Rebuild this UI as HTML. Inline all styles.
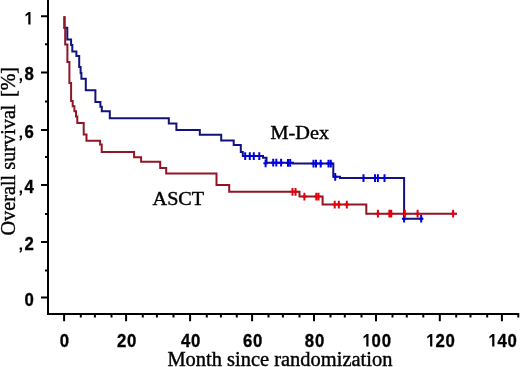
<!DOCTYPE html>
<html><head><meta charset="utf-8"><style>
html,body{margin:0;padding:0;background:#fff;}
body{width:520px;height:367px;overflow:hidden;}
svg{display:block;filter:blur(0.4px);}
.sans{font-family:"Liberation Sans",sans-serif;font-weight:bold;font-size:18.4px;fill:#000;stroke:#000;stroke-width:0.35px;}
.serif{font-family:"Liberation Serif",serif;font-size:20px;fill:#000;stroke:#000;stroke-width:0.4px;}
</style></head><body>
<svg width="520" height="367" viewBox="0 0 520 367">
<path d="M48 0V314.9 M47 313.9H519.3 M41 16.2H48 M41 72.5H48 M41 129.9H48 M41 185.1H48 M41 242.0H48 M41 297.4H48 M45 44.3H48 M45 101.6H48 M45 157.0H48 M45 214.0H48 M45 270.4H48 M64.1 313.9V321.2 M126.1 313.9V321.2 M190.1 313.9V321.2 M252.1 313.9V321.2 M314.0 313.9V321.2 M376.0 313.9V321.2 M439.8 313.9V321.2 M501.9 313.9V321.2 M80.8 313.9V317.5 M94.9 313.9V317.5 M111.5 313.9V317.5 M142.8 313.9V317.5 M156.9 313.9V317.5 M173.5 313.9V317.5 M206.8 313.9V317.5 M220.9 313.9V317.5 M236.8 313.9V317.5 M268.5 313.9V317.5 M282.9 313.9V317.5 M299.5 313.9V317.5 M330.5 313.9V317.5 M344.8 313.9V317.5 M361.5 313.9V317.5 M392.5 313.9V317.5 M406.8 313.9V317.5 M423.3 313.9V317.5 M456.2 313.9V317.5 M470.5 313.9V317.5 M487.2 313.9V317.5 M518.3 313.9V317.5 " fill="none" stroke="#000" stroke-width="2"/>
<path d="M64.5 16.3 L64.5 27.8 L67.3 27.8 L67.3 39.5 L71.1 39.5 L71.1 45.0 L72.3 45.0 L72.3 51.4 L76.4 51.4 L76.4 55.9 L79.2 55.9 L79.2 67.0 L80.6 67.0 L80.6 72.9 L81.4 72.9 L81.4 78.8 L85.8 78.8 L85.8 90.2 L95.4 90.2 L95.4 101.9 L100.4 101.9 L100.4 106.7 L101.8 106.7 L101.8 111.3 L109.8 111.3 L109.8 118.3 L168.8 118.3 L168.8 123.5 L176.4 123.5 L176.4 129.9 L199.8 129.9 L199.8 134.7 L221.2 134.7 L221.2 140.5 L233.7 140.5 L233.7 145.1 L240.8 145.1 L240.8 151.9 L242.8 151.9 L242.8 156.1 L263.0 156.1 L263.0 157.8 L266.5 157.8 L266.5 162.7 L293.0 162.7 L293.0 163.6 L333.3 163.6 L333.3 176.8 L340.0 176.8 L340.0 178.1 L404.1 178.1 L404.1 218.7 L423.0 218.7" fill="none" stroke="#12127e" stroke-width="2"/>
<path d="M245.2 152.2V160.0M243.0 156.1H247.4M249.8 152.2V160.0M247.6 156.1H252.0M253.8 152.2V160.0M251.6 156.1H256.0M259.3 152.2V160.0M257.1 156.1H261.5M265.6 159.4V167.2M263.4 163.3H267.8M273.2 158.8V166.6M271.0 162.7H275.4M276.3 158.8V166.6M274.1 162.7H278.5M281.1 158.8V166.6M278.9 162.7H283.3M288.0 159.0V166.8M285.8 162.9H290.2M290.2 159.0V166.8M288.0 162.9H292.4M313.5 159.7V167.5M311.3 163.6H315.7M316.0 159.7V167.5M313.8 163.6H318.2M320.7 159.7V167.5M318.5 163.6H322.9M328.5 159.7V167.5M326.3 163.6H330.7M330.8 159.7V167.5M328.6 163.6H333.0M335.2 172.9V180.7M333.0 176.8H337.4M363.5 174.2V182.0M361.3 178.1H365.7M375.0 174.2V182.0M372.8 178.1H377.2M377.9 174.2V182.0M375.7 178.1H380.1M384.5 174.2V182.0M382.3 178.1H386.7M404.1 214.8V222.6M401.9 218.7H406.3M421.2 214.8V222.6M419.0 218.7H423.4" fill="none" stroke="#0000e0" stroke-width="2"/>
<path d="M64.4 16.3 L64.4 28.0 L65.2 28.0 L65.2 44.4 L67.4 44.4 L67.4 62.0 L69.4 62.0 L69.4 83.0 L71.1 83.0 L71.1 101.0 L72.7 101.0 L72.7 106.3 L74.4 106.3 L74.4 111.2 L76.0 111.2 L76.0 116.6 L77.3 116.6 L77.3 123.0 L83.7 123.0 L83.7 134.6 L86.5 134.6 L86.5 140.7 L100.1 140.7 L100.1 144.4 L101.7 144.4 L101.7 152.1 L134.1 152.1 L134.1 157.2 L141.1 157.2 L141.1 161.8 L160.2 161.8 L160.2 168.1 L166.2 168.1 L166.2 173.5 L216.5 173.5 L216.5 184.9 L229.2 184.9 L229.2 191.8 L299.5 191.8 L299.5 196.6 L322.6 196.6 L322.6 204.6 L366.3 204.6 L366.3 213.7 L457.0 213.7" fill="none" stroke="#901626" stroke-width="2"/>
<path d="M292.5 187.9V195.7M290.3 191.8H294.7M295.5 187.9V195.7M293.3 191.8H297.7M304.4 192.7V200.5M302.2 196.6H306.6M316.3 192.7V200.5M314.1 196.6H318.5M318.5 192.7V200.5M316.3 196.6H320.7M334.7 200.7V208.5M332.5 204.6H336.9M338.8 200.7V208.5M336.6 204.6H341.0M346.8 200.7V208.5M344.6 204.6H349.0M377.9 209.8V217.6M375.7 213.7H380.1M389.4 209.8V217.6M387.2 213.7H391.6M391.2 209.8V217.6M389.0 213.7H393.4M404.8 209.8V217.6M402.6 213.7H407.0M417.6 209.8V217.6M415.4 213.7H419.8M453.1 209.8V217.6M450.9 213.7H455.3" fill="none" stroke="#e00010" stroke-width="2"/>
<path d="M30.50 11.90 L28.50 11.90 L25.50 14.50 L25.50 16.60 L28.30 14.60 L28.30 24.60 L30.50 24.60Z M19.70 78.30 L22.00 78.30 L22.00 80.80 L21.30 82.60 L20.00 83.50 L19.40 82.80 L20.50 81.30 L20.60 80.50 L19.70 80.50Z M19.70 135.60 L22.00 135.60 L22.00 138.10 L21.30 139.90 L20.00 140.80 L19.40 140.10 L20.50 138.60 L20.60 137.80 L19.70 137.80Z M19.70 190.60 L22.00 190.60 L22.00 193.10 L21.30 194.90 L20.00 195.80 L19.40 195.10 L20.50 193.60 L20.60 192.80 L19.70 192.80Z M19.70 247.60 L22.00 247.60 L22.00 250.10 L21.30 251.90 L20.00 252.80 L19.40 252.10 L20.50 250.60 L20.60 249.80 L19.70 249.80Z M368.50 333.90 L366.50 333.90 L363.50 336.50 L363.50 338.60 L366.30 336.60 L366.30 346.60 L368.50 346.60Z M432.30 333.90 L430.30 333.90 L427.30 336.50 L427.30 338.60 L430.10 336.60 L430.10 346.60 L432.30 346.60Z M494.40 333.90 L492.40 333.90 L489.40 336.50 L489.40 338.60 L492.20 336.60 L492.20 346.60 L494.40 346.60Z " fill="#000"/>
<g class="sans"><text transform="translate(29.10 80.20) scale(0.91 1)" text-anchor="middle">8</text><text transform="translate(29.10 137.50) scale(0.91 1)" text-anchor="middle">6</text><text transform="translate(29.10 192.50) scale(0.91 1)" text-anchor="middle">4</text><text transform="translate(29.10 249.50) scale(0.91 1)" text-anchor="middle">2</text><text transform="translate(29.10 305.60) scale(0.91 1)" text-anchor="middle">0</text><text transform="translate(64.50 346.60) scale(0.91 1)" text-anchor="middle">0</text><text transform="translate(121.55 346.60) scale(0.91 1)" text-anchor="middle">2</text><text transform="translate(131.65 346.60) scale(0.91 1)" text-anchor="middle">0</text><text transform="translate(185.55 346.60) scale(0.91 1)" text-anchor="middle">4</text><text transform="translate(195.65 346.60) scale(0.91 1)" text-anchor="middle">0</text><text transform="translate(247.55 346.60) scale(0.91 1)" text-anchor="middle">6</text><text transform="translate(257.65 346.60) scale(0.91 1)" text-anchor="middle">0</text><text transform="translate(309.45 346.60) scale(0.91 1)" text-anchor="middle">8</text><text transform="translate(319.55 346.60) scale(0.91 1)" text-anchor="middle">0</text><text transform="translate(376.25 346.60) scale(0.91 1)" text-anchor="middle">0</text><text transform="translate(386.35 346.60) scale(0.91 1)" text-anchor="middle">0</text><text transform="translate(440.05 346.60) scale(0.91 1)" text-anchor="middle">2</text><text transform="translate(450.15 346.60) scale(0.91 1)" text-anchor="middle">0</text><text transform="translate(502.15 346.60) scale(0.91 1)" text-anchor="middle">4</text><text transform="translate(512.25 346.60) scale(0.91 1)" text-anchor="middle">0</text></g>
<g class="serif">
<text x="167.4" y="365.6" textLength="225" lengthAdjust="spacingAndGlyphs">Month since randomization</text>
<text transform="translate(14.9 235.5) rotate(-90)" textLength="131" lengthAdjust="spacingAndGlyphs">Overall survival</text>
<text transform="translate(14.9 97) rotate(-90)">[%]</text>
<text x="270.6" y="139.0" font-size="18" textLength="58.5" lengthAdjust="spacingAndGlyphs">M-Dex</text>
<text x="152.6" y="204.8" font-size="18" textLength="51.5" lengthAdjust="spacingAndGlyphs">ASCT</text>
</g>
</svg>
</body></html>
